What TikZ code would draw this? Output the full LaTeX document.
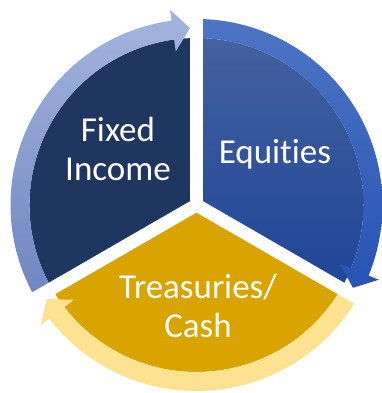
\documentclass[tikz,border=0pt]{standalone}
\usepackage{fontspec}
\setmainfont{Carlito}[Ligatures=NoCommon]
\usetikzlibrary{positioning}
\definecolor{fixedNavy}{HTML}{1F3661}
\definecolor{fixedBandTop}{HTML}{A3B4DE}
\definecolor{fixedBandLow}{HTML}{7085C0}
\definecolor{eqTop}{HTML}{44619F}
\definecolor{eqLow}{HTML}{1F4597}
\definecolor{eqBandTop}{HTML}{4D75C5}
\definecolor{eqBandLow}{HTML}{2753B3}
\definecolor{cashGold}{HTML}{D9A300}
\definecolor{cashBand}{HTML}{FCE291}

\begin{document}
\begin{tikzpicture}[x=1pt, y=1pt,
    fixedfill/.style={fill=fixedNavy},
    eqfill/.style={top color=eqTop, bottom color=eqLow},
    cashfill/.style={fill=cashGold},
    fixedband/.style={top color=fixedBandTop, bottom color=fixedBandLow},
    eqband/.style={top color=eqBandTop, bottom color=eqBandLow},
    cashband/.style={fill=cashBand},
    gapline/.style={draw=white, line width=13pt},
    caption/.style={text=white, font=\fontsize{35}{39}\selectfont, align=center, anchor=base}]
  \useasboundingbox (0,0) rectangle (382,-393);
  \begin{scope}[shift={(196.5,-205)}]
    % the three slices
    \foreach \a/\b/\s in {210/90/fixedfill, 90/-30/eqfill, 330/210/cashfill}
      \path[\s] (0,0) -- (\a:167) arc[start angle=\a, end angle=\b, radius=167] -- cycle;
    % clockwise arrows round the rim
    \foreach \a/\b/\s in {210/90/fixedband, 90/-30/eqband, 330/210/cashband} {
      \pgfmathsetmacro\back{\b+7.7}
      \pgfmathsetmacro\tip{\b+2.1}
      \path[\s] (\a:186) arc[start angle=\a, end angle=\back, radius=186]
        -- (\back:197) -- (\tip:177) -- (\back:155) -- (\back:167)
        arc[start angle=\back, end angle=\a, radius=167] -- cycle;
    }
    \foreach \g in {90,210,330}
      \draw[gapline] (0,0) -- (\g:206);
  \end{scope}
  % base anchor sits on the last line
  \node[caption] (fixed) at (118,-180) {Fixed\\Income};
  \node[caption] (equities) at (275,-163) {Equities};
  \node[caption] (cash) at (198,-337) {Treasuries/\\Cash};
\end{tikzpicture}
\end{document}
